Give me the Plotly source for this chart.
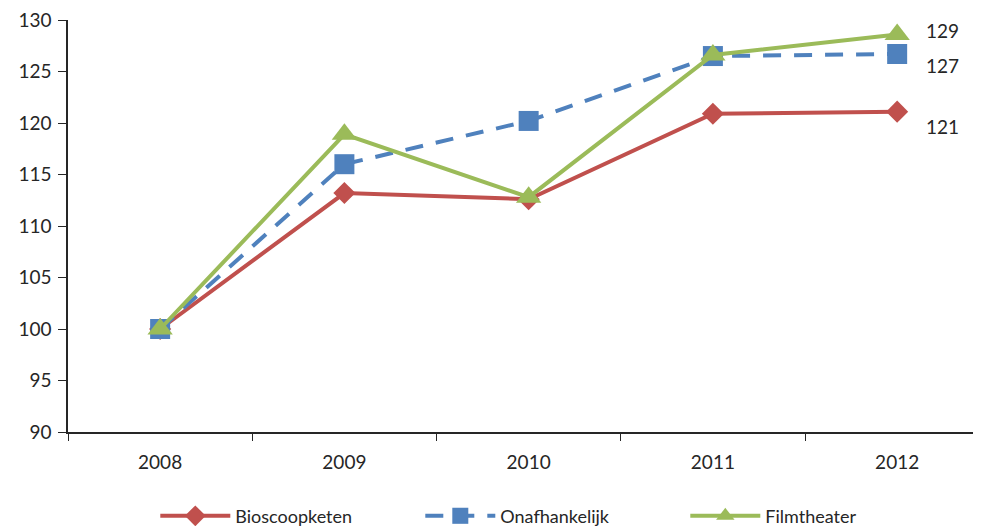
import plotly.graph_objects as go

years = ["2008", "2009", "2010", "2011", "2012"]
bioscoopketen = [100, 113.2, 112.6, 120.9, 121.1]
onafhankelijk = [100, 116.0, 120.2, 126.5, 126.7]
filmtheater = [100, 118.9, 112.8, 126.6, 128.6]

names = ["Bioscoopketen", "Onafhankelijk", "Filmtheater"]
series = [bioscoopketen, onafhankelijk, filmtheater]
colors = ["#C0504D", "#4F81BD", "#9BBB59"]
symbols = ["diamond", "square", "triangle-up"]
sizes = [17, 20, 22]
dashes = ["solid", "18px,13px", "solid"]
label_shift = [-15, -12, 4]

font_family = "Lato, 'Open Sans', sans-serif"

fig = go.Figure()
for name, vals, c, s, sz, d in zip(names, series, colors, symbols, sizes, dashes):
    fig.add_trace(go.Scatter(
        x=years, y=vals, name=name, mode="lines+markers",
        line=dict(color=c, width=4, dash=d),
        marker=dict(symbol=s, size=sz, color=c),
    ))

last = len(years) - 1
for vals, sh in zip(series, label_shift):
    fig.add_annotation(x=last, y=vals[-1], xref="x", yref="y", text=f"{round(vals[-1])}",
                       showarrow=False, xshift=45, yshift=sh,
                       font=dict(size=19, color="#262626", family=font_family))

fig.update_layout(
    width=981, height=526,
    margin=dict(l=60, r=8, t=12, b=102),
    plot_bgcolor="white", paper_bgcolor="white",
    font=dict(family=font_family, size=19, color="#262626"),
    legend=dict(orientation="h", x=0.531, xanchor="center", xref="paper",
                y=0.034, yanchor="middle", yref="container",
                font=dict(size=18), itemwidth=70, entrywidth=180, tracegroupgap=0),
    showlegend=True,
)
fig.update_xaxes(type="category", range=[-0.5, 4.455], showline=True, linecolor="#262626",
                 linewidth=1.5, ticks="outside", tickson="boundaries", ticklen=7,
                 tickcolor="#262626", showgrid=False, zeroline=False, automargin=False,
                 ticklabelstandoff=12)
fig.update_yaxes(range=[90, 130], dtick=5, showline=True, linecolor="#262626", linewidth=1.5,
                 ticks="outside", ticklen=8, tickcolor="#262626", showgrid=False,
                 zeroline=False, automargin=False, ticklabelstandoff=3,
                 ticklabeloverflow="allow")

fig.write_html("out.html")
